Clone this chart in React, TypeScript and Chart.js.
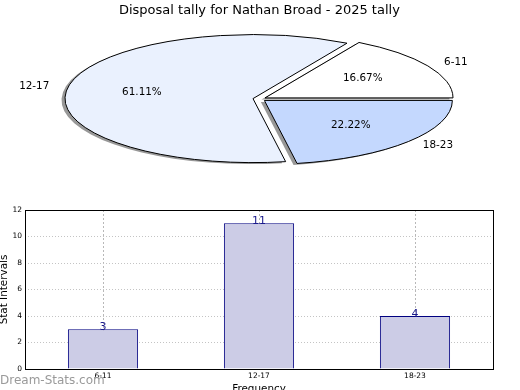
import React, { useEffect, useRef } from "react";
import { Chart, registerables } from "chart.js";

Chart.register(...registerables);

const categories = ["6-11", "12-17", "18-23"];
const tallies = [3, 11, 4];
const pieColors = ["#ffffff", "#eaf1fe", "#c4d8fe"];
const yTicks = [0, 2, 4, 6, 8, 10, 12];
const chartTitle = "Disposal tally for Nathan Broad - 2025 tally";
const yAxisTitle = "Stat Intervals";
const xAxisTitle = "Frequency";
const watermark = "Dream-Stats.com";

const FONT = "'DejaVu Sans', sans-serif";
const K = 64 / 188; // vertical squash of the pie
const EXPLODE = 6.5;

export default function App() {
  const pieRef = useRef<HTMLCanvasElement>(null);
  const barRef = useRef<HTMLCanvasElement>(null);

  useEffect(() => {
    // pie order reversed so wedges run counter-clockwise from 0 degrees
    const pieLabels = [...categories].reverse();
    const pieValues = [...tallies].reverse();
    const pieBg = [...pieColors].reverse();
    const total = tallies.reduce((s, v) => s + v, 0);

    const ellipsePie = {
      id: "ellipsePie",
      beforeDatasetsDraw(chart: any) {
        const ctx = chart.ctx as CanvasRenderingContext2D;
        const arcs = chart.getDatasetMeta(0).data;
        const path = (a: any, dx: number, dy: number) => {
          const p = a.getProps(["x", "y", "startAngle", "endAngle", "outerRadius"], true);
          const mid = (p.startAngle + p.endAngle) / 2;
          ctx.save();
          ctx.translate(dx, dy);
          ctx.translate(p.x, p.y);
          ctx.scale(1, K);
          ctx.translate(Math.cos(mid) * EXPLODE, Math.sin(mid) * EXPLODE);
          ctx.beginPath();
          ctx.moveTo(0, 0);
          ctx.arc(0, 0, p.outerRadius, p.startAngle, p.endAngle);
          ctx.closePath();
          ctx.restore();
        };
        ctx.save();
        arcs.forEach((a: any) => {
          path(a, -3.5, 1.5);
          ctx.fillStyle = "rgba(50,50,50,0.5)";
          ctx.fill();
        });
        arcs.forEach((a: any) => {
          path(a, 0, 0);
          ctx.fillStyle = a.options.backgroundColor;
          ctx.fill();
          ctx.lineWidth = 1;
          ctx.lineJoin = "miter";
          ctx.strokeStyle = "#000000";
          ctx.stroke();
        });
        ctx.restore();
        return false;
      },
      afterDraw(chart: any) {
        const ctx = chart.ctx as CanvasRenderingContext2D;
        const arcs = chart.getDatasetMeta(0).data;
        ctx.save();
        ctx.fillStyle = "#000000";
        ctx.font = `10.4px ${FONT}`;
        ctx.textBaseline = "middle";
        arcs.forEach((a: any, i: number) => {
          const p = a.getProps(["x", "y", "startAngle", "endAngle", "outerRadius"], true);
          const mid = (p.startAngle + p.endAngle) / 2;
          const c = Math.cos(mid);
          const s = Math.sin(mid);
          const R = p.outerRadius;
          const lx = p.x + c * (EXPLODE + 1.1 * R);
          const ly = p.y + s * (EXPLODE + 1.1 * R) * K;
          ctx.textAlign = c > 0 ? "left" : "right";
          ctx.fillText(pieLabels[i], lx, ly);
          const px = p.x + c * (EXPLODE + 0.6 * R);
          const py = p.y + s * (EXPLODE + 0.6 * R) * K;
          ctx.textAlign = "center";
          ctx.fillText(((pieValues[i] / total) * 100).toFixed(2) + "%", px, py);
        });
        ctx.restore();
      },
    };

    const pie = new Chart(pieRef.current!, {
      type: "pie",
      data: {
        labels: pieLabels,
        datasets: [
          {
            data: pieValues,
            backgroundColor: pieBg,
            borderColor: "#000000",
            borderWidth: 1,
            radius: 188,
          } as any,
        ],
      },
      options: {
        responsive: false,
        animation: false,
        rotation: 90,
        layout: { padding: { top: 0, left: 0, right: 1.2, bottom: 20.6 } },
        plugins: {
          legend: { display: false },
          tooltip: { enabled: false },
          title: {
            display: true,
            text: chartTitle,
            color: "#000000",
            font: { family: FONT, size: 13, weight: "normal" },
            padding: { top: 3, bottom: 0 },
          },
        },
      },
      plugins: [ellipsePie],
    });

    const barExtras = {
      id: "barExtras",
      afterDraw(chart: any) {
        const ctx = chart.ctx as CanvasRenderingContext2D;
        const area = chart.chartArea;
        ctx.save();
        ctx.strokeStyle = "#000000";
        ctx.lineWidth = 1;
        ctx.strokeRect(Math.round(area.left) + 0.5, Math.round(area.top) + 0.5,
          Math.round(area.right - area.left), Math.round(area.bottom - area.top));
        ctx.fillStyle = "#1a1a8c";
        ctx.font = `11px ${FONT}`;
        ctx.textAlign = "center";
        ctx.textBaseline = "alphabetic";
        chart.getDatasetMeta(0).data.forEach((b: any, i: number) => {
          ctx.fillText(String(tallies[i]), b.x, b.y + 1);
        });
        ctx.fillStyle = "#9a9a9a";
        ctx.font = `12px ${FONT}`;
        ctx.textAlign = "left";
        ctx.textBaseline = "middle";
        ctx.fillText(watermark, 0, 181);
        ctx.restore();
      },
    };

    const bar = new Chart(barRef.current!, {
      type: "bar",
      data: {
        labels: categories,
        datasets: [
          {
            data: tallies,
            backgroundColor: "#ccccE6",
            borderColor: "#000080",
            borderWidth: 1,
            barPercentage: 0.45,
            categoryPercentage: 1,
          },
        ],
      },
      options: {
        responsive: false,
        animation: false,
        layout: { padding: { top: 10, right: 27, left: 0, bottom: 0 } },
        plugins: {
          legend: { display: false },
          tooltip: { enabled: false },
        },
        scales: {
          x: {
            z: 1,
            afterFit: (s: any) => { s.height = 21; },
            grid: {
              offset: false,
              drawTicks: false,
              color: "#b8b8b8",
              lineWidth: 1,
            },
            border: { display: false, dash: [2, 2] },
            ticks: {
              color: "#000000",
              font: { family: FONT, size: 7.5 },
              padding: 3,
            },
            title: {
              display: true,
              text: xAxisTitle,
              color: "#000000",
              font: { family: FONT, size: 10.4 },
              padding: { top: 0, bottom: -6 },
            },
          },
          y: {
            z: 1,
            min: 0,
            max: 12,
            afterFit: (s: any) => { s.width = 25; },
            afterBuildTicks: (s: any) => { s.ticks = yTicks.map((v) => ({ value: v })); },
            grid: {
              drawTicks: false,
              color: "#c4c4c4",
              lineWidth: 1,
            },
            border: { display: false, dash: [1, 2] },
            ticks: {
              color: "#000000",
              font: { family: FONT, size: 7.5 },
              padding: 3,
            },
            title: {
              display: true,
              text: yAxisTitle,
              color: "#000000",
              font: { family: FONT, size: 10.4 },
              padding: { top: -2, bottom: 0 },
            },
          },
        },
      },
      plugins: [barExtras],
    });

    return () => {
      pie.destroy();
      bar.destroy();
    };
  }, []);

  return (
    <div style={{ position: "absolute", left: 0, top: 0, width: 520, height: 390, background: "#ffffff", overflow: "hidden" }}>
      <canvas ref={pieRef} width={520} height={200} style={{ position: "absolute", left: 0, top: 0, display: "block" }} />
      <canvas ref={barRef} width={520} height={190} style={{ position: "absolute", left: 0, top: 200, display: "block" }} />
    </div>
  );
}
